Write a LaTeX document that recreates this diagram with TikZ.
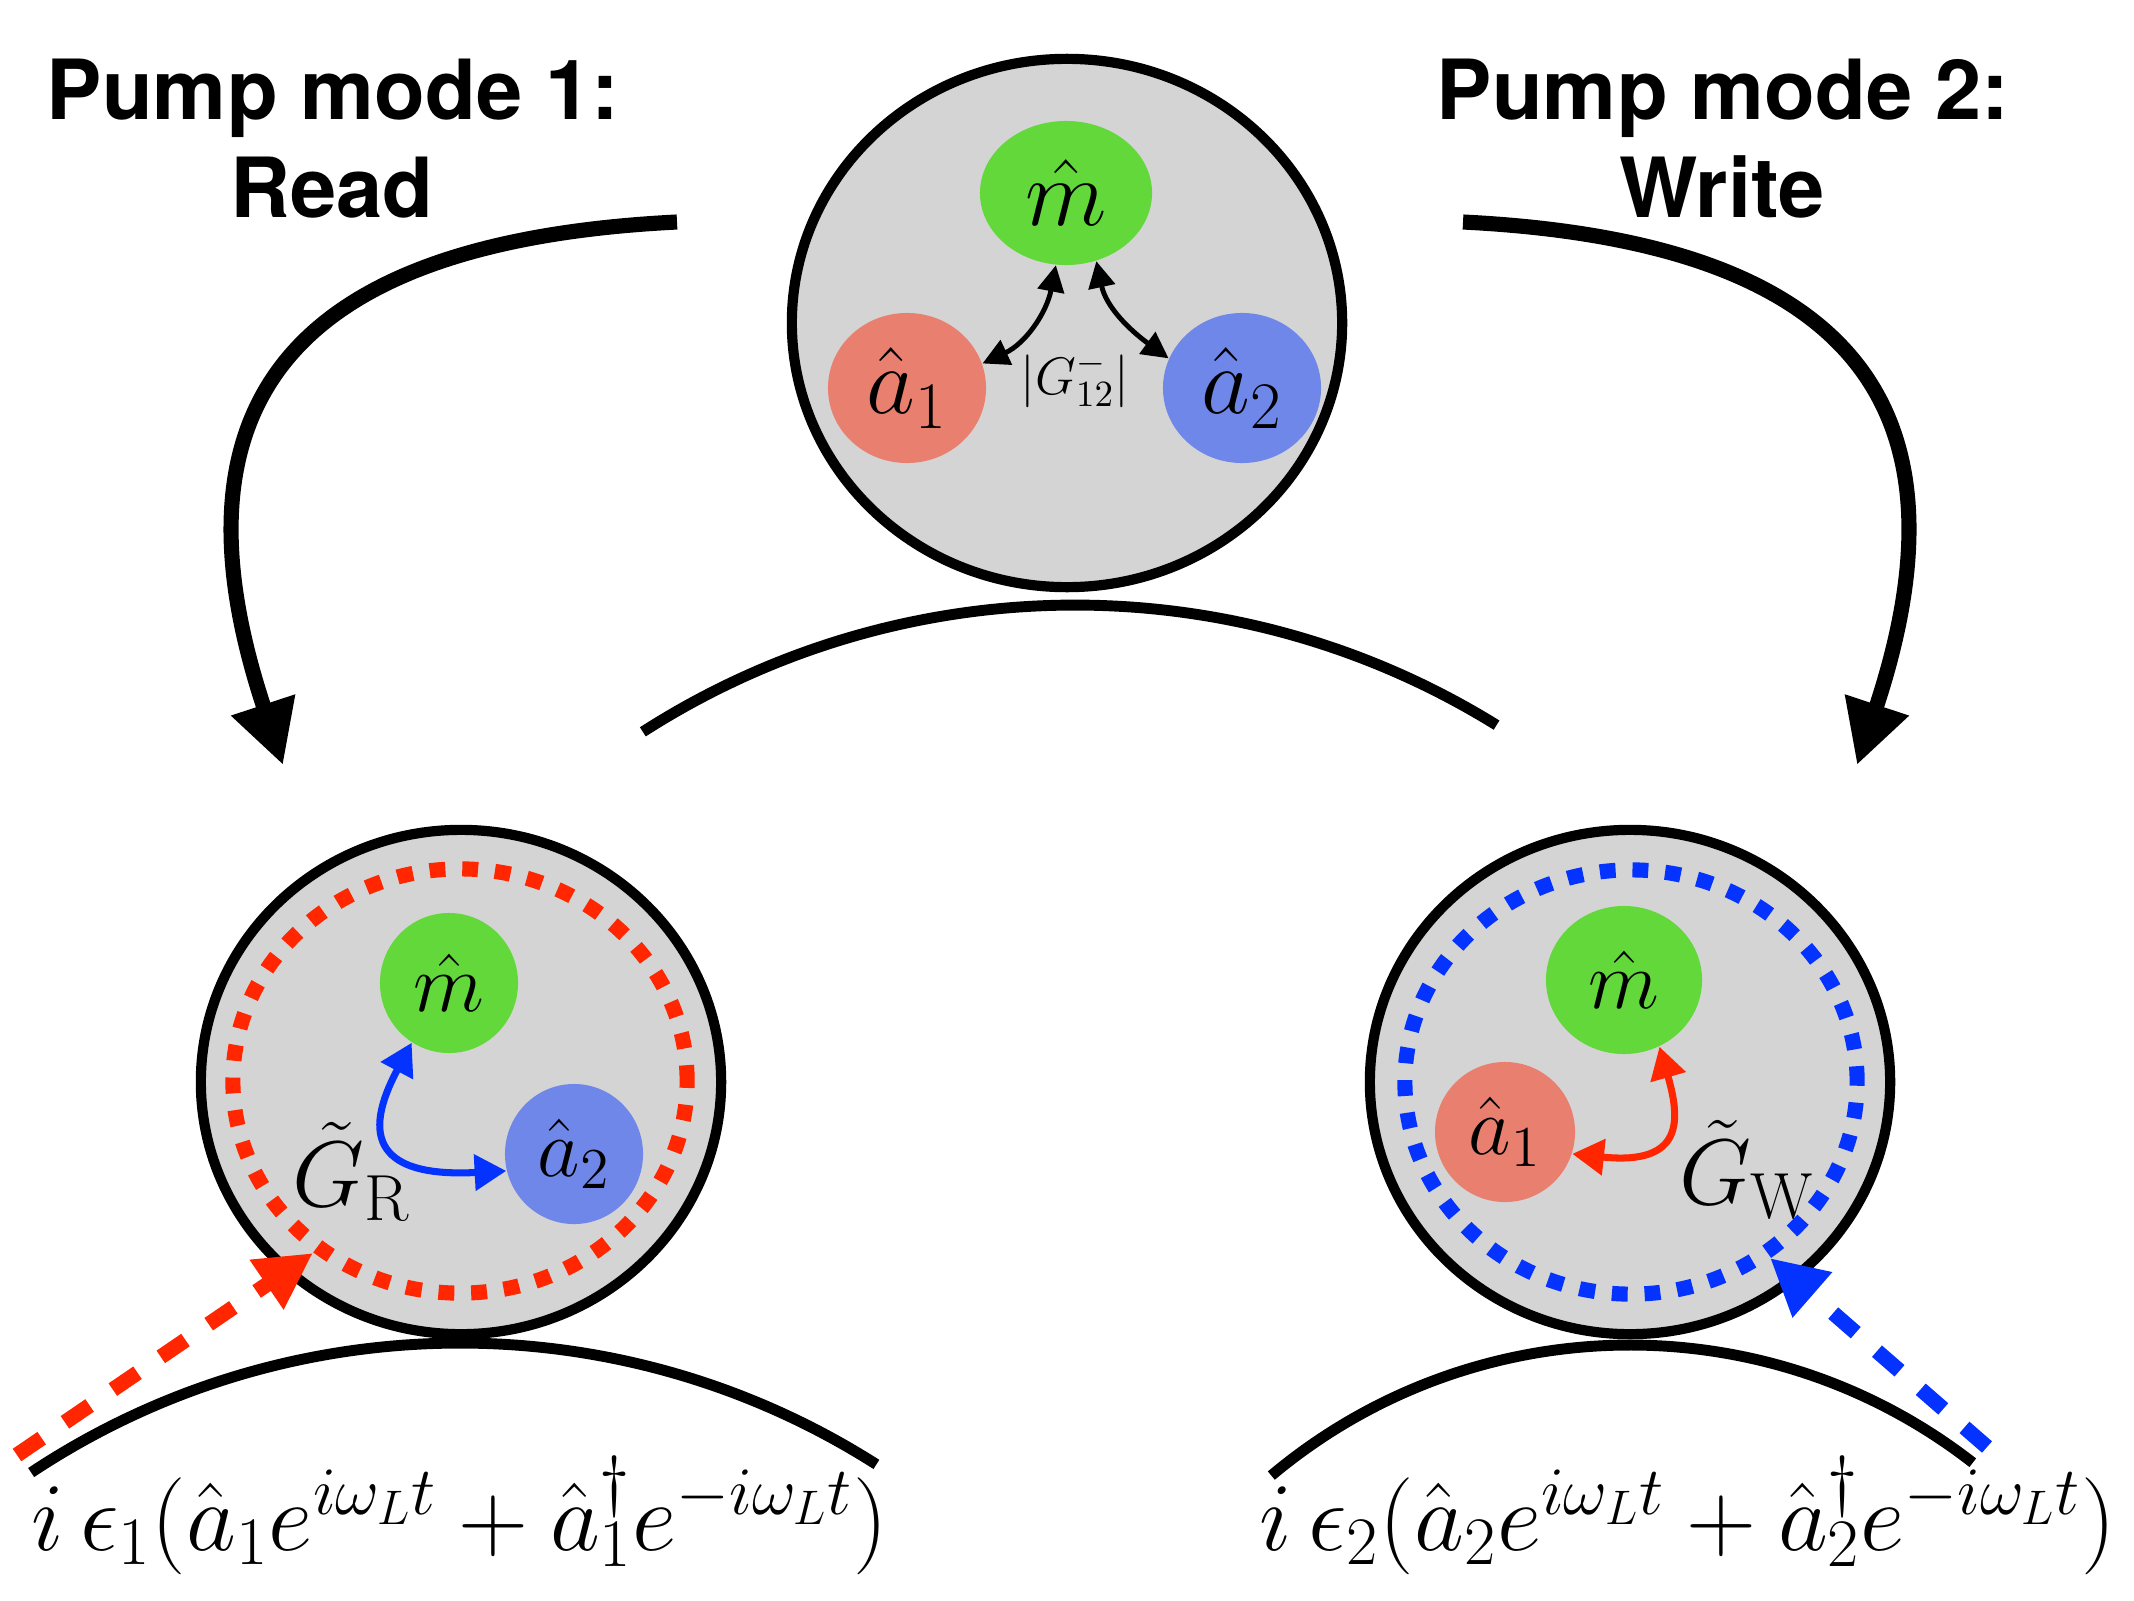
\RequirePackage{fix-cm}
\documentclass[tikz,border=0pt]{standalone}
\usepackage{fontspec}
\newfontfamily\heros{TeX Gyre Heros}
\usetikzlibrary{arrows.meta,shapes.geometric}
\definecolor{cgray}{RGB}{212,212,212}
\definecolor{mgreen}{RGB}{98,216,58}
\definecolor{msalmon}{RGB}{233,128,111}
\definecolor{mblue}{RGB}{111,135,232}
\definecolor{dred}{RGB}{255,38,0}
\definecolor{dblue}{RGB}{4,51,255}
\tikzset{
  bigcirc/.style={ellipse, draw=black, line width=2.9pt, fill=cgray, inner sep=0pt},
  mode/.style={ellipse, inner sep=0pt},
  ring/.style={ellipse, line width=4.3pt, dash pattern=on 4.5pt off 4.8pt, inner sep=0pt},
  arcline/.style={line width=3.1pt},
  bigarrow/.style={line width=4.3pt, -{Triangle[length=18pt,width=18pt]}},
  cpl/.style={line width=1.4pt, {Triangle[length=7.5pt,width=7.5pt]}-{Triangle[length=7.5pt,width=7.5pt]}},
  cplbig/.style={line width=2pt, {Triangle[length=9pt,width=10pt]}-{Triangle[length=9pt,width=10pt]}},
  pumparrow/.style={line width=4.3pt, dash pattern=on 8.5pt off 8pt, -{Triangle[length=16pt,width=16pt]}},
  title/.style={font=\heros\bfseries\fontsize{23.6}{28}\selectfont, anchor=base, inner sep=0pt},
  bigmath/.style={font=\fontsize{27}{32}\selectfont},
  midmath/.style={font=\fontsize{23.5}{28}\selectfont},
  glabel/.style={font=\fontsize{26.5}{31}\selectfont},
  formula/.style={font=\fontsize{27.6}{33}\selectfont, anchor=base, inner sep=0pt},
}
\begin{document}
\begin{tikzpicture}[x=0.01cm, y=-0.01cm]
\useasboundingbox (0,0) rectangle (2134,1600);

% titles
\node[title] (t1a) at (333,120) {Pump mode 1:};
\node[title] (t1b) at (332,218) {Read};
\node[title] (t2a) at (1723,120) {Pump mode 2:};
\node[title] (t2b) at (1722,218) {Write};

% top system
\node[bigcirc, minimum width=5.5cm, minimum height=5.28cm] (top) at (1067,323) {};
\node[mode, fill=mgreen, minimum width=1.72cm, minimum height=1.44cm, bigmath] (mT) at (1066,193) {$\hat{m}$};
\node[mode, fill=msalmon, minimum width=1.58cm, minimum height=1.5cm, bigmath] (a1T) at (907,388) {$\hat{a}_1$};
\node[mode, fill=mblue, minimum width=1.58cm, minimum height=1.5cm, bigmath] (a2T) at (1242,388) {$\hat{a}_2$};
\draw[cpl] (mT.262) to[out=259,in=25] (a1T.18);
\draw[cpl] (mT.294) to[out=282,in=144] (a2T.158);
\node[font=\fontsize{15}{18}\selectfont] (G12) at (1075,380) {$|G^-_{12}|$};

% middle arc
\draw[arcline] (1075,1405) ++(-122.7:800) arc[start angle=-122.7, end angle=-58.2, radius=800];

% big arrows
\coordinate (sL) at (677,222);
\coordinate (eL) at (283,765);
\coordinate (sR) at (1463,222);
\coordinate (eR) at (1857,765);
\draw[bigarrow] (sL) .. controls (277,242) and (167,415) .. (eL);
\draw[bigarrow] (sR) .. controls (1863,242) and (1973,415) .. (eR);

% bottom left system (read)
\node[bigcirc, minimum width=5.2cm, minimum height=5.04cm] (left) at (461,1082) {};
\node[ring, draw=dred, minimum width=4.54cm, minimum height=4.24cm] (ringL) at (460,1081) {};
\node[mode, fill=mgreen, minimum width=1.38cm, minimum height=1.4cm, midmath] (mL) at (449,983) {$\hat{m}$};
\node[mode, fill=mblue, minimum width=1.38cm, minimum height=1.4cm, midmath] (a2L) at (574,1154) {$\hat{a}_2$};
\draw[cplbig, dblue] (mL.238) to[out=242, in=183, out distance=0.84cm, in distance=1.5cm] (a2L.194);
\node[glabel] (GR) at (352,1172) {$\tilde{G}_{\mathrm{R}}$};
\draw[arcline] (460,2118) ++(-123.6:775) arc[start angle=-123.6, end angle=-57.5, radius=775];
\coordinate (rs) at (17,1455);
\coordinate (re) at (313,1253);
\draw[pumparrow, dred] (rs) -- (re);
\node[formula] (fL) at (460,1550) {$i\,\epsilon_1(\hat{a}_1e^{i\omega_L t}+\hat{a}_1^\dagger e^{-i\omega_L t})$};

% bottom right system (write)
\node[bigcirc, minimum width=5.2cm, minimum height=5.04cm] (right) at (1630,1082) {};
\node[ring, draw=dblue, minimum width=4.52cm, minimum height=4.24cm] (ringR) at (1631,1082) {};
\node[mode, fill=mgreen, minimum width=1.56cm, minimum height=1.48cm, midmath] (mR) at (1624,980) {$\hat{m}$};
\node[mode, fill=msalmon, minimum width=1.4cm, minimum height=1.4cm, midmath] (a1R) at (1505,1132) {$\hat{a}_1$};
\draw[cplbig, dred] (mR.298) to[out=286, in=354, out distance=0.75cm, in distance=1.13cm] (a1R.342);
\node[glabel] (GW) at (1747,1170) {$\tilde{G}_{\mathrm{W}}$};
\draw[arcline] (1630,1903) ++(-130:558) arc[start angle=-130, end angle=-52.1, radius=558];
\coordinate (bs) at (1987,1447);
\coordinate (be) at (1770,1258);
\draw[pumparrow, dblue] (bs) -- (be);
\node[formula] (fR) at (1688,1550) {$i\,\epsilon_2(\hat{a}_2e^{i\omega_L t}+\hat{a}_2^\dagger e^{-i\omega_L t})$};
\end{tikzpicture}
\end{document}
